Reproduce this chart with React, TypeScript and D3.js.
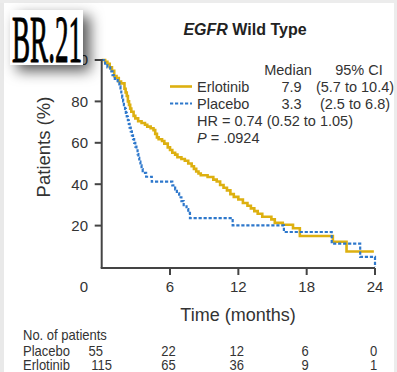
import React from "react";
import * as d3 from "d3";

const WIDTH = 397;
const HEIGHT = 372;

// Kaplan-Meier steps: [month, % surviving from that month on]
const erlotinibSteps: [number, number][] = [
  [0, 100], [0.3, 99.1], [0.5, 98.2], [0.7, 96.5], [0.9, 94.8], [1.1, 92.2], [1.3, 91.3],
  [1.5, 89.6], [1.7, 88.7], [2.0, 86.1], [2.1, 84.3], [2.2, 82.6], [2.3, 80.0], [2.4, 78.3],
  [2.5, 76.5], [2.6, 75.0], [2.8, 73.0], [2.95, 71.8], [3.2, 70.4], [3.5, 69.6], [3.8, 68.7],
  [4.0, 67.8], [4.3, 67.0], [4.55, 66.1], [4.7, 64.3], [4.85, 62.6], [5.0, 61.7], [5.3, 60.9],
  [5.5, 59.6], [5.8, 57.8], [6.0, 56.5], [6.2, 55.2], [6.45, 54.3], [6.65, 53.0], [7.0, 52.2],
  [7.3, 51.3], [7.6, 50.0], [7.9, 48.7], [8.1, 47.4], [8.3, 46.1], [8.5, 45.2], [8.7, 44.3],
  [9.3, 43.5], [9.8, 42.2], [10.1, 41.3], [10.4, 39.6], [10.7, 38.3], [11.0, 37.0], [11.3, 35.2],
  [11.6, 33.9], [12.0, 32.6], [12.4, 30.9], [12.8, 29.6], [13.1, 28.3], [13.4, 27.0], [13.7, 25.7],
  [14.1, 24.3], [14.9, 23.0], [15.2, 21.3], [15.9, 20.4], [16.8, 18.7], [17.4, 15.0], [20.3, 12.2],
  [21.5, 7.5], [23.9, 7.5],
];

const placeboSteps: [number, number][] = [
  [0, 100], [0.3, 98.2], [0.5, 96.4], [0.75, 94.5], [0.95, 92.7], [1.15, 90.9], [1.4, 89.1],
  [1.55, 87.3], [1.65, 85.5], [1.72, 83.6], [1.8, 81.8], [1.88, 80.0], [1.95, 78.2], [2.05, 76.4],
  [2.12, 74.5], [2.2, 72.7], [2.3, 70.9], [2.38, 69.1], [2.45, 67.3], [2.55, 65.5], [2.65, 63.6],
  [2.75, 61.8], [2.85, 60.0], [2.95, 58.2], [3.05, 56.4], [3.15, 54.5], [3.22, 52.7], [3.3, 50.9],
  [3.4, 49.1], [3.5, 47.3], [3.6, 45.5], [3.9, 43.6], [4.4, 41.2], [6.2, 39.4], [6.45, 37.5],
  [6.6, 35.6], [6.8, 33.7], [7.0, 31.8], [7.2, 29.9], [7.45, 28.0], [7.6, 26.1], [7.75, 23.6],
  [11.5, 20.1], [16.0, 16.9], [20.2, 11.3], [22.7, 4.9], [24, 0],
];

const xTicks = [6, 12, 18, 24];
const yTicks = [20, 40, 60, 80, 100];

const riskTimes = [0, 6, 12, 18, 24];
const riskPlacebo = [55, 22, 12, 6, 0];
const riskErlotinib = [115, 65, 36, 9, 1];

const legendRows = [
  { name: "Erlotinib", median: "7.9", ci: "(5.7 to 10.4)" },
  { name: "Placebo", median: "3.3", ci: "(2.5 to 6.8)" },
];

const GOLD = "#DDB010";
const BLUE = "#2E78CC";
const AXIS = "#444";
const TEXT = "#333";
const SANS = "'Liberation Sans', Arial, Helvetica, sans-serif";

// Condensed text for the at-risk table: squeezed horizontally around its anchor
function Narrow({
  x,
  y,
  anchor = "start",
  children,
}: {
  x: number;
  y: number;
  anchor?: "start" | "middle" | "end";
  children: React.ReactNode;
}) {
  return (
    <text transform={`translate(${x},${y}) scale(0.93,1)`} textAnchor={anchor}>
      {children}
    </text>
  );
}

export default function App() {
  const x = d3.scaleLinear().domain([0, 24]).range([101.7, 375]);
  const y = d3.scaleLinear().domain([0, 100]).range([267, 60]);
  const line = d3
    .line<[number, number]>()
    .x((d) => x(d[0]))
    .y((d) => y(d[1]))
    .curve(d3.curveStepAfter);

  const x0 = x(0);
  const yBase = y(0) + 1;

  return (
    <svg
      width={WIDTH}
      height={HEIGHT}
      viewBox={`0 0 ${WIDTH} ${HEIGHT}`}
      style={{ position: "absolute", left: 0, top: 0, background: "#fff" }}
      fontFamily={SANS}
    >
      <defs>
        <filter id="boxShadow" x="-40%" y="-40%" width="200%" height="200%">
          <feDropShadow dx="7" dy="6" stdDeviation="7" floodColor="#000" floodOpacity="0.65" />
        </filter>
      </defs>
      <rect x={0} y={0} width={WIDTH} height={HEIGHT} fill="#fff" />
      <rect x={0} y={0} width={4} height={HEIGHT} fill="#e9e9e9" />
      <rect x={0} y={0} width={WIDTH} height={3} fill="#ececec" />
      <rect x={WIDTH - 3} y={0} width={3} height={HEIGHT} fill="#ececec" />

      {/* Title */}
      <text x={245} y={35} textAnchor="middle" fontSize={16} fontWeight="bold" fill="#222">
        <tspan fontStyle="italic">EGFR</tspan>
        <tspan> Wild Type</tspan>
      </text>

      {/* Survival curves */}
      <path d={line(erlotinibSteps) ?? ""} fill="none" stroke={GOLD} strokeWidth={2.6} />
      <path
        d={line(placeboSteps) ?? ""}
        fill="none"
        stroke={BLUE}
        strokeWidth={2.2}
        strokeDasharray="3.2,1.8"
      />

      {/* Y axis */}
      <line x1={x0} x2={x0} y1={y(100) - 1} y2={yBase} stroke={AXIS} strokeWidth={2} />
      {yTicks.map((t) => (
        <g key={t}>
          <line x1={x0 - 7} x2={x0} y1={y(t)} y2={y(t)} stroke={AXIS} strokeWidth={2} />
          <text x={88} y={y(t)} dy="0.36em" textAnchor="end" fontSize={15} fill={TEXT}>
            {t}
          </text>
        </g>
      ))}
      <text
        transform={`translate(50, ${147}) rotate(-90)`}
        textAnchor="middle"
        fontSize={18.5}
        fill={TEXT}
      >
        Patients (%)
      </text>

      {/* X axis */}
      <line x1={x0 - 1} x2={x(24)} y1={yBase} y2={yBase} stroke={AXIS} strokeWidth={2} />
      {xTicks.map((t) => (
        <g key={t}>
          <line x1={x(t)} x2={x(t)} y1={yBase} y2={yBase + 7} stroke={AXIS} strokeWidth={2} />
          <text x={x(t)} y={291.5} textAnchor="middle" fontSize={15} fill={TEXT}>
            {t}
          </text>
        </g>
      ))}
      <text x={88} y={291.5} textAnchor="end" fontSize={15} fill={TEXT}>
        0
      </text>
      <text x={238} y={320.5} textAnchor="middle" fontSize={18} fill={TEXT}>
        Time (months)
      </text>

      {/* Legend */}
      <g fontSize={14.5} fill={TEXT}>
        <text x={288} y={75} textAnchor="middle">Median</text>
        <text x={359} y={75} textAnchor="middle">95% CI</text>
        {legendRows.map((r, i) => {
          const base = 91.5 + i * 17;
          return (
            <g key={r.name}>
              <line
                x1={170}
                x2={192}
                y1={base - 5}
                y2={base - 5}
                stroke={i === 0 ? GOLD : BLUE}
                strokeWidth={i === 0 ? 2.6 : 2.2}
                strokeDasharray={i === 0 ? undefined : "3.2,1.8"}
              />
              <text x={197} y={base}>{r.name}</text>
              <text x={291.5} y={base} textAnchor="middle">{r.median}</text>
              <text x={355} y={base} textAnchor="middle">{r.ci}</text>
            </g>
          );
        })}
        <text x={197} y={126}>HR = 0.74 (0.52 to 1.05)</text>
        <text x={197} y={142.5}>
          <tspan fontStyle="italic">P</tspan>
          <tspan> = .0924</tspan>
        </text>
      </g>

      {/* Number at risk */}
      <g fontSize={14} fill={TEXT}>
        <Narrow x={23} y={340}>No. of patients</Narrow>
        <Narrow x={23} y={355.5}>Placebo</Narrow>
        <Narrow x={23} y={370}>Erlotinib</Narrow>
        {riskTimes.map((t, i) => (
          <g key={t}>
            <Narrow x={i === 0 ? x(t) - 6 : x(t) - 1.5} y={355.5} anchor="middle">
              {riskPlacebo[i]}
            </Narrow>
            <Narrow x={i === 0 ? x(t) : x(t) - 1.5} y={370} anchor="middle">
              {riskErlotinib[i]}
            </Narrow>
          </g>
        ))}
      </g>

      {/* Study label */}
      <g filter="url(#boxShadow)">
        <rect x={10} y={10} width={73} height={55} fill="#fff" />
      </g>
      <text
        x={12}
        y={62}
        fontFamily="'Liberation Serif', 'DejaVu Serif', serif"
        fontSize={68}
        textLength={70}
        lengthAdjust="spacingAndGlyphs"
        fill="#000"
        stroke="#000"
        strokeWidth={1.1}
      >
        BR.21
      </text>
    </svg>
  );
}
